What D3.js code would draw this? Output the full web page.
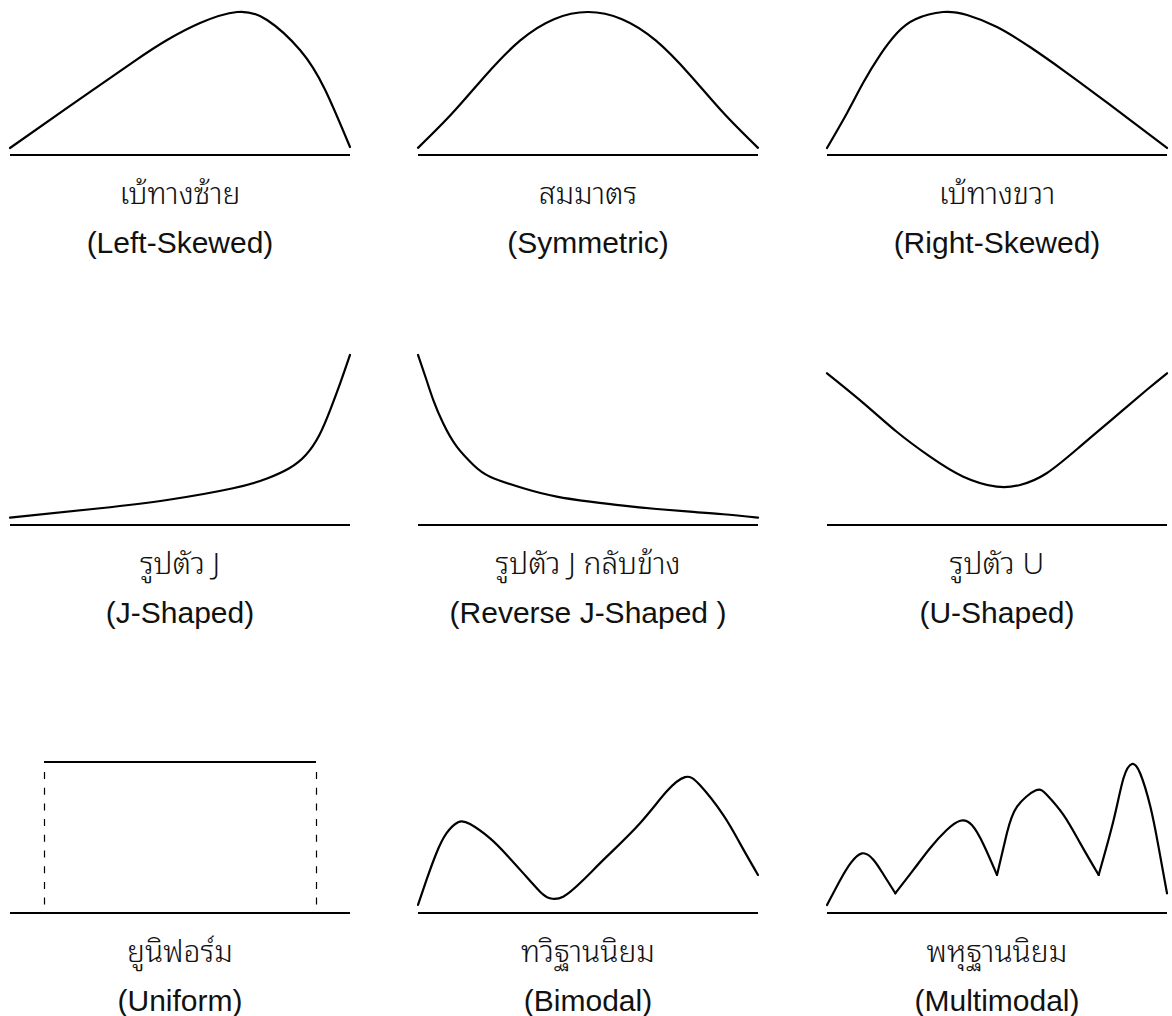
<!DOCTYPE html>
<html>
<head>
<meta charset="utf-8">
<script src="https://cdn.jsdelivr.net/npm/d3@7"></script>
<style>
  html, body { margin: 0; padding: 0; background: #fff; }
  svg { display: block; }
  text { font-family: "Liberation Sans", Arial, "Noto Sans Thai Looped", "Noto Sans Thai", "Noto Sans", sans-serif; fill: #111; }
  text.thai { font-family: "Noto Sans Thai Looped", "Noto Sans Thai", "Liberation Sans", sans-serif; font-weight: 300; }
</style>
</head>
<body>
<svg id="chart" width="1172" height="1016"></svg>
<script>
// ---- Data (x: 0..100 across panel, y: 0..100 relative height) ----
const thaiLabels = ["เบ้ทางซ้าย", "สมมาตร", "เบ้ทางขวา",
                    "รูปตัว J", "รูปตัว J กลับข้าง", "รูปตัว U",
                    "ยูนิฟอร์ม", "ทวิฐานนิยม", "พหุฐานนิยม"];
const englishLabels = ["(Left-Skewed)", "(Symmetric)", "(Right-Skewed)",
                       "(J-Shaped)", "(Reverse J-Shaped )", "(U-Shaped)",
                       "(Uniform)", "(Bimodal)", "(Multimodal)"];

const leftSkewed = [[0,4.9],[16.8,32.9],[36.2,65],[46.2,80.4],[55.9,92.3],[66.8,100],[75.6,94.4],[85.3,73.4],[92.6,46],[100,5.6]];
const symmetric = [[0,5],[10,29],[20,56],[30,80],[40,95],[50,100],[60,95],[70,80],[80,56],[90,29],[100,5]];
const rightSkewed = [[0,4.9],[5.9,29.4],[10.6,50.3],[15.6,69.9],[20.6,85.3],[26,95],[34.1,100],[41.2,97.9],[50,89.5],[59.7,75.5],[69.4,59.4],[79.4,41.9],[89.1,24.5],[100,4.9]];
const jShaped = [[0,5.1],[26.5,11.7],[46.2,17.5],[65.6,25.7],[75.6,32.5],[82,39.5],[87,49],[91,63],[94.1,80],[97.1,99],[100,118.9]];
const reverseJ = [[0,118.9],[2.5,101.4],[4.5,87.4],[7.4,71.1],[11.4,54.8],[16.3,42],[21.2,33.8],[31,25.7],[40.8,19.8],[50.6,16.3],[60.4,13.5],[70.2,11.2],[80,9.3],[89.8,7.5],[100,5.1]];
const uShaped = [[0,106.1],[10.8,85.1],[20.5,65.2],[30.3,47.8],[40.1,33.8],[49.9,26.8],[56.8,28],[64.6,36.2],[74.4,54.8],[84.2,74.6],[94,94.4],[100,106.1]];
const uniformStart = 10, uniformEnd = 90, uniformHeight = 105.6, uniformFloor = 4.9;
const bimodal = [[0,5.6],[2.5,23.1],[5.4,41.8],[8.4,55.8],[11.8,63.5],[15.3,62.2],[21.2,52.2],[26.1,40.6],[31,27.7],[35.9,14.9],[38.8,10.3],[42.7,11.4],[48.6,23.1],[55.5,39.4],[65.3,62.8],[73.1,84.9],[78.5,95],[82.9,89.5],[89.8,68.5],[94.7,48.7],[100,26.6]];
const multimodal = [
  [[0,5.6],[3.9,23.1],[6.9,34.7],[10.3,41.7],[13.7,37.1],[16.7,26.6],[20.1,13.8]],
  [[20.1,13.8],[25.4,30.1],[30.3,45.3],[35.2,58.0],[39.2,64.5],[42.6,61.5],[46.1,47.6],[50,26.6]],
  [[50,26.6],[52.9,55.7],[55.9,74.4],[61.3,85.6],[64.7,82.6],[69.6,68.5],[74.5,48.7],[79.9,26.6]],
  [[79.9,26.6],[84.3,65.0],[87.2,94.2],[89.7,104.2],[92.1,97.7],[95.1,74.4],[97.5,46.4],[100,13.8]]
];

// ---- Layout ----
const colLeft = [10, 418, 827];
const panelW = 340;
const rowBase = [155, 525, 913];
const unitH = 143; // pixels per 100 units

const svg = d3.select("#chart");

const panels = [
  {curves: [leftSkewed]}, {curves: [symmetric]}, {curves: [rightSkewed]},
  {curves: [jShaped]}, {curves: [reverseJ]}, {curves: [uShaped]},
  {uniform: true}, {curves: [bimodal]}, {curves: multimodal}
];

panels.forEach((p, i) => {
  const c = i % 3, r = Math.floor(i / 3);
  const x = d3.scaleLinear().domain([0, 100]).range([colLeft[c], colLeft[c] + panelW]);
  const y = d3.scaleLinear().domain([0, 100]).range([rowBase[r], rowBase[r] - unitH]);
  const g = svg.append("g");

  // baseline
  g.append("line")
    .attr("x1", x(0)).attr("x2", x(100))
    .attr("y1", y(0)).attr("y2", y(0))
    .attr("stroke", "#000").attr("stroke-width", 2.2);

  const line = d3.line().x(d => x(d[0])).y(d => y(d[1])).curve(d3.curveNatural);

  if (p.curves) {
    p.curves.forEach(seg => {
      g.append("path").attr("d", line(seg))
        .attr("fill", "none").attr("stroke", "#000").attr("stroke-width", 2.2)
        .attr("stroke-linecap", "round").attr("stroke-linejoin", "round");
    });
  }
  if (p.uniform) {
    g.append("line")
      .attr("x1", x(uniformStart)).attr("x2", x(uniformEnd))
      .attr("y1", y(uniformHeight)).attr("y2", y(uniformHeight))
      .attr("stroke", "#000").attr("stroke-width", 2.2);
    [uniformStart, uniformEnd].forEach(v => {
      const xv = Math.round(x(v)) + 0.5;
      g.append("line")
        .attr("x1", xv).attr("x2", xv)
        .attr("y1", y(uniformHeight) + 10).attr("y2", y(uniformFloor))
        .attr("stroke", "#000").attr("stroke-width", 1.2)
        .attr("stroke-dasharray", "7,8.7");
    });
  }

  const cx = x(50);
  g.append("text").attr("class", "thai").attr("x", cx).attr("y", y(0) + 49)
    .attr("text-anchor", "middle").attr("font-size", 30).text(thaiLabels[i]);
  g.append("text").attr("x", cx).attr("y", y(0) + 98)
    .attr("text-anchor", "middle").attr("font-size", 30).text(englishLabels[i]);
});
</script>
</body>
</html>
